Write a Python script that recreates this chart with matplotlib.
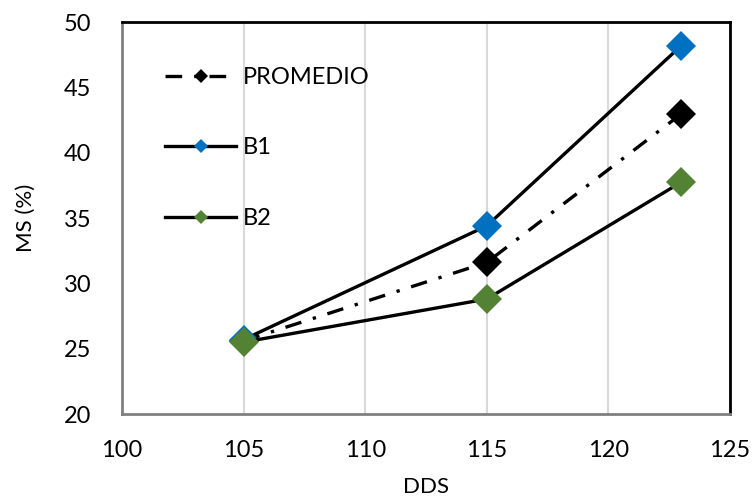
import matplotlib
matplotlib.use("Agg")
import matplotlib.pyplot as plt

plt.rcParams['font.family'] = ['Lato', 'DejaVu Sans']

# Data
dds = [105, 115, 123]
promedio = [25.6, 31.6, 42.97]
b1 = [25.7, 34.4, 48.2]
b2 = [25.5, 28.8, 37.75]

series_labels = ["PROMEDIO", "B1", "B2"]
series_colors = ["#000000", "#0070C0", "#548235"]

x_ticks = [100, 105, 110, 115, 120, 125]
y_ticks = [20, 25, 30, 35, 40, 45, 50]

fig = plt.figure(figsize=(7.54, 4.99), dpi=100)
ax = fig.add_axes([0.1618, 0.1703, 0.8064, 0.7856])

ax.plot(dds, promedio, color="black", lw=2.4, linestyle=(0, (5, 3.6, 1, 3.6)),
        dash_capstyle="butt", marker="D", ms=15, mfc=series_colors[0],
        mec=series_colors[0], mew=0, label=series_labels[0], zorder=3)
ax.plot(dds, b1, color="black", lw=2.4, marker="D", ms=15,
        mfc=series_colors[1], mec=series_colors[1], mew=0,
        label=series_labels[1], zorder=3)
ax.plot(dds, b2, color="black", lw=2.4, marker="D", ms=15,
        mfc=series_colors[2], mec=series_colors[2], mew=0,
        label=series_labels[2], zorder=3)

ax.set_xlim(100, 125)
ax.set_ylim(20, 50)
ax.set_xticks(x_ticks)
ax.set_yticks(y_ticks)
ax.tick_params(axis="both", length=0, labelsize=17)
ax.tick_params(axis="x", pad=19)
ax.tick_params(axis="y", pad=22)

ax.grid(axis="x", color="#d9d9d9", lw=1.5)
ax.set_axisbelow(True)

for side in ("top", "right"):
    ax.spines[side].set_color("black")
    ax.spines[side].set_linewidth(2)
for side in ("left", "bottom"):
    ax.spines[side].set_color("#808080")
    ax.spines[side].set_linewidth(2)

ax.set_xlabel("DDS", fontsize=16, labelpad=11)
ax.set_ylabel("MS (%)", fontsize=16, labelpad=20)

leg = ax.legend(loc="upper left", bbox_to_anchor=(0.0715, 0.885), frameon=False,
                fontsize=17, markerscale=0.47, handlelength=2.97,
                handletextpad=0.3, labelspacing=2.09, borderpad=0,
                borderaxespad=0)

fig.savefig("out.png", dpi=100)
